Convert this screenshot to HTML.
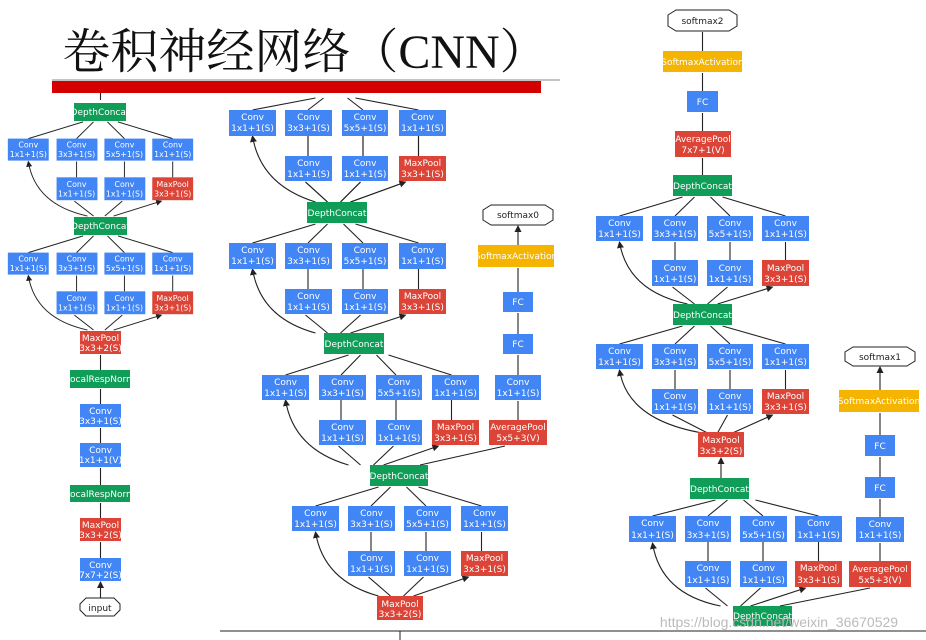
<!DOCTYPE html>
<html><head><meta charset="utf-8"><style>
body{margin:0;background:#fff}
svg{display:block}
text{font-family:"DejaVu Sans","Liberation Sans",sans-serif;fill:#fff;text-anchor:middle;font-size:9px}
.k{fill:#222}
.e{stroke:#222;stroke-width:1.1;fill:none;marker-end:url(#a)}
.b{fill:#4285f4}.r{fill:#db4437}.g{fill:#0f9d58}.y{fill:#f4b400}
.o{fill:#fff;stroke:#222;stroke-width:1}
</style></head><body>
<svg width="926" height="640" viewBox="0 0 926 640" xmlns="http://www.w3.org/2000/svg">
<defs><marker id="a" markerWidth="7" markerHeight="7" refX="6" refY="3.5" orient="auto" markerUnits="userSpaceOnUse"><path d="M0 0L7 3.5L0 7z" fill="#222"/></marker></defs>

<text x="305" y="68" style="font-family:'Liberation Serif','Noto Serif CJK SC',serif;font-size:48px;fill:#111">卷积神经网络（CNN）</text>
<rect x="52" y="81" width="489" height="12" fill="#d40000"/>
<line x1="52" y1="80" x2="560" y2="80" stroke="#888" stroke-width="1"/>
<line x1="220" y1="631" x2="926" y2="631" stroke="#222" stroke-width="1"/>

<!-- Column 1 -->
<line class="e" x1="100.5" y1="93" x2="100.5" y2="100" style="marker-end:none"/>
<g transform="translate(100.5,121) scale(0.87,0.88)">
<path class="e" d="M-83 20L-20 1M-27.5 20L-8 1M27.5 20L8 1M83 20L20 1M-27.5 64V46M27.5 64V46M83 64V46M-8 108L-30 91M5 108L25 91M15 108L70 91"/>
<path class="e" d="M-15 108Q-75 95 -83 46"/>
<rect class="b" x="-106.5" y="20" width="47" height="25"/><rect class="b" x="-50.5" y="20" width="47" height="25"/><rect class="b" x="4.5" y="20" width="47" height="25"/><rect class="b" x="59.5" y="20" width="47" height="25"/>
<rect class="b" x="-50.5" y="64" width="47" height="26"/><rect class="b" x="4.5" y="64" width="47" height="26"/><rect class="r" x="59.5" y="64" width="47" height="26"/>
<text x="-83" y="30">Conv</text><text x="-83" y="41">1x1+1(S)</text><text x="-27.5" y="30">Conv</text><text x="-27.5" y="41">3x3+1(S)</text><text x="27.5" y="30">Conv</text><text x="27.5" y="41">5x5+1(S)</text><text x="83" y="30">Conv</text><text x="83" y="41">1x1+1(S)</text>
<text x="-27.5" y="75">Conv</text><text x="-27.5" y="86">1x1+1(S)</text><text x="27.5" y="75">Conv</text><text x="27.5" y="86">1x1+1(S)</text><text x="83" y="75">MaxPool</text><text x="83" y="86">3x3+1(S)</text>
</g>
<g transform="translate(100.5,235) scale(0.87,0.88)">
<path class="e" d="M-83 20L-20 1M-27.5 20L-8 1M27.5 20L8 1M83 20L20 1M-27.5 64V46M27.5 64V46M83 64V46M-8 108L-30 91M5 108L25 91M15 108L70 91"/>
<path class="e" d="M-15 108Q-75 95 -83 46"/>
<rect class="b" x="-106.5" y="20" width="47" height="25"/><rect class="b" x="-50.5" y="20" width="47" height="25"/><rect class="b" x="4.5" y="20" width="47" height="25"/><rect class="b" x="59.5" y="20" width="47" height="25"/>
<rect class="b" x="-50.5" y="64" width="47" height="26"/><rect class="b" x="4.5" y="64" width="47" height="26"/><rect class="r" x="59.5" y="64" width="47" height="26"/>
<text x="-83" y="30">Conv</text><text x="-83" y="41">1x1+1(S)</text><text x="-27.5" y="30">Conv</text><text x="-27.5" y="41">3x3+1(S)</text><text x="27.5" y="30">Conv</text><text x="27.5" y="41">5x5+1(S)</text><text x="83" y="30">Conv</text><text x="83" y="41">1x1+1(S)</text>
<text x="-27.5" y="75">Conv</text><text x="-27.5" y="86">1x1+1(S)</text><text x="27.5" y="75">Conv</text><text x="27.5" y="86">1x1+1(S)</text><text x="83" y="75">MaxPool</text><text x="83" y="86">3x3+1(S)</text>
</g>
<path class="e" d="M100.5 370V355M100.5 404V389M100.5 443V428M100.5 485V468M100.5 518V503M100.5 558V542M100.5 598V582"/>
<rect class="g" x="74" y="103" width="52" height="18"/><text x="100" y="115">DepthConcat</text>
<rect class="g" x="74" y="217" width="53" height="18"/><text x="100.5" y="229">DepthConcat</text>
<rect class="r" x="80" y="331" width="41" height="23"/><text x="100.5" y="341">MaxPool</text><text x="100.5" y="351">3x3+2(S)</text>
<rect class="g" x="70" y="370" width="60" height="18"/><text x="100" y="382">LocalRespNorm</text>
<rect class="b" x="80" y="404" width="41" height="23"/><text x="100.5" y="414">Conv</text><text x="100.5" y="424">3x3+1(S)</text>
<rect class="b" x="80" y="443" width="41" height="24"/><text x="100.5" y="453">Conv</text><text x="100.5" y="463">1x1+1(V)</text>
<rect class="g" x="70" y="485" width="60" height="17"/><text x="100" y="497">LocalRespNorm</text>
<rect class="r" x="80" y="518" width="41" height="23"/><text x="100.5" y="528">MaxPool</text><text x="100.5" y="538">3x3+2(S)</text>
<rect class="b" x="80" y="558" width="41" height="23"/><text x="100.5" y="568">Conv</text><text x="100.5" y="578">7x7+2(S)</text>
<polygon class="o" points="86,598 114,598 120,604 120,610 114,616 86,616 80,610 80,604"/><text class="k" x="100" y="611">input</text>

<!-- Column 2 modules -->
<g transform="translate(335.5,90)">
<path class="e" d="M-83 20L-20 8M-27.5 20L-12 8M27.5 20L12 8M83 20L20 8M-27.5 66V46M27.5 66V46M83 66V46M-8 112L-30 92M5 112L25 92M15 112L70 92" style="marker-end:none"/>
<path class="e" d="M-27.5 66V46M27.5 66V46M83 66V46M-8 112L-30 92M5 112L25 92M15 112L70 92"/>
<path class="e" d="M-20 112Q-75 95 -83 46"/>
<rect class="b" x="-106.5" y="20" width="47" height="26"/><rect class="b" x="-50.5" y="20" width="47" height="26"/><rect class="b" x="6.5" y="20" width="46" height="26"/><rect class="b" x="63.5" y="20" width="47" height="26"/>
<rect class="b" x="-50.5" y="66" width="47" height="25"/><rect class="b" x="6.5" y="66" width="46" height="25"/><rect class="r" x="63.5" y="66" width="47" height="25"/>
<text x="-83" y="30">Conv</text><text x="-83" y="41">1x1+1(S)</text><text x="-27" y="30">Conv</text><text x="-27" y="41">3x3+1(S)</text><text x="29.5" y="30">Conv</text><text x="29.5" y="41">5x5+1(S)</text><text x="87" y="30">Conv</text><text x="87" y="41">1x1+1(S)</text>
<text x="-27" y="76">Conv</text><text x="-27" y="87">1x1+1(S)</text><text x="29.5" y="76">Conv</text><text x="29.5" y="87">1x1+1(S)</text><text x="87" y="76">MaxPool</text><text x="87" y="87">3x3+1(S)</text>
</g>
<g transform="translate(335.5,223)">
<path class="e" d="M-83 20L-20 1M-27.5 20L-8 1M27.5 20L8 1M83 20L20 1M-27.5 66V46M27.5 66V46M83 66V46M-8 110L-30 92M5 110L25 92M15 110L70 92"/>
<path class="e" d="M-20 110Q-75 95 -83 46"/>
<rect class="b" x="-106.5" y="20" width="47" height="26"/><rect class="b" x="-50.5" y="20" width="47" height="26"/><rect class="b" x="6.5" y="20" width="46" height="26"/><rect class="b" x="63.5" y="20" width="47" height="26"/>
<rect class="b" x="-50.5" y="66" width="47" height="25"/><rect class="b" x="6.5" y="66" width="46" height="25"/><rect class="r" x="63.5" y="66" width="47" height="25"/>
<text x="-83" y="30">Conv</text><text x="-83" y="41">1x1+1(S)</text><text x="-27" y="30">Conv</text><text x="-27" y="41">3x3+1(S)</text><text x="29.5" y="30">Conv</text><text x="29.5" y="41">5x5+1(S)</text><text x="87" y="30">Conv</text><text x="87" y="41">1x1+1(S)</text>
<text x="-27" y="76">Conv</text><text x="-27" y="87">1x1+1(S)</text><text x="29.5" y="76">Conv</text><text x="29.5" y="87">1x1+1(S)</text><text x="87" y="76">MaxPool</text><text x="87" y="87">3x3+1(S)</text>
</g>
<g transform="translate(368.5,354)">
<path class="e" d="M-83 21L-20 1M-27.5 21L-8 1M27.5 21L8 1M83 21L20 1M-27.5 66V46M27.5 66V46M83 66V46M-8 111L-30 92M5 111L25 92M15 111L70 92"/>
<path class="e" d="M-20 111Q-75 95 -83 46"/>
<rect class="b" x="-106.5" y="21" width="47" height="25"/><rect class="b" x="-49.5" y="21" width="47" height="25"/><rect class="b" x="7.5" y="21" width="46" height="25"/><rect class="b" x="63.5" y="21" width="47" height="25"/>
<rect class="b" x="-49.5" y="66" width="47" height="25"/><rect class="b" x="7.5" y="66" width="46" height="25"/><rect class="r" x="63.5" y="66" width="47" height="25"/>
<text x="-83" y="31">Conv</text><text x="-83" y="42">1x1+1(S)</text><text x="-26" y="31">Conv</text><text x="-26" y="42">3x3+1(S)</text><text x="30.5" y="31">Conv</text><text x="30.5" y="42">5x5+1(S)</text><text x="87" y="31">Conv</text><text x="87" y="42">1x1+1(S)</text>
<text x="-26" y="76">Conv</text><text x="-26" y="87">1x1+1(S)</text><text x="30.5" y="76">Conv</text><text x="30.5" y="87">1x1+1(S)</text><text x="87" y="76">MaxPool</text><text x="87" y="87">3x3+1(S)</text>
</g>
<g transform="translate(398.5,486)">
<path class="e" d="M-83 20L-20 1M-27.5 20L-8 1M27.5 20L8 1M83 20L20 1M-27.5 65V46M27.5 65V46M83 65V46M-8 110L-30 91M5 110L25 91M15 110L70 91"/>
<path class="e" d="M-20 110Q-75 95 -83 46"/>
<rect class="b" x="-106.5" y="20" width="47" height="25"/><rect class="b" x="-50.5" y="20" width="47" height="25"/><rect class="b" x="5.5" y="20" width="47" height="25"/><rect class="b" x="62.5" y="20" width="47" height="25"/>
<rect class="b" x="-50.5" y="65" width="47" height="25"/><rect class="b" x="5.5" y="65" width="47" height="25"/><rect class="r" x="62.5" y="65" width="47" height="25"/>
<text x="-83" y="30">Conv</text><text x="-83" y="41">1x1+1(S)</text><text x="-27" y="30">Conv</text><text x="-27" y="41">3x3+1(S)</text><text x="29" y="30">Conv</text><text x="29" y="41">5x5+1(S)</text><text x="86" y="30">Conv</text><text x="86" y="41">1x1+1(S)</text>
<text x="-27" y="75">Conv</text><text x="-27" y="86">1x1+1(S)</text><text x="29" y="75">Conv</text><text x="29" y="86">1x1+1(S)</text><text x="86" y="75">MaxPool</text><text x="86" y="86">3x3+1(S)</text>
</g>
<rect class="g" x="307" y="202" width="60" height="21"/><text x="337" y="216">DepthConcat</text>
<rect class="g" x="324" y="333" width="60" height="21"/><text x="354" y="347">DepthConcat</text>
<rect class="g" x="370" y="465" width="58" height="21"/><text x="399" y="479">DepthConcat</text>
<rect class="r" x="377" y="596" width="46" height="24"/><text x="400" y="607">MaxPool</text><text x="400" y="617">3x3+2(S)</text>
<line x1="400" y1="631" x2="400" y2="640" stroke="#222"/>
<!-- aux 0 -->
<path class="e" d="M420 465L505 446M518 420V401M518 375V355M518 334V313M518 292V268M518 245V226"/>
<rect class="r" x="489" y="420" width="58" height="25"/><text x="518" y="430">AveragePool</text><text x="518" y="441">5x5+3(V)</text>
<rect class="b" x="495" y="375" width="46" height="25"/><text x="518" y="385">Conv</text><text x="518" y="396">1x1+1(S)</text>
<rect class="b" x="503" y="334" width="30" height="20"/><text x="518" y="347">FC</text>
<rect class="b" x="503" y="292" width="30" height="20"/><text x="518" y="305">FC</text>
<rect class="y" x="478" y="245" width="76" height="22"/><text x="516" y="259">SoftmaxActivation</text>
<polygon class="o" points="491,205 545,205 553,210 553,220 545,225 491,225 483,220 483,210"/><text class="k" x="518" y="218">softmax0</text>

<!-- Column 3 -->
<g transform="translate(702.5,196)">
<path class="e" d="M-83 20L-20 1M-27.5 20L-8 1M27.5 20L8 1M83 20L20 1M-27.5 64V46M27.5 64V46M83 64V46M-8 108L-30 91M5 108L25 91M15 108L70 91"/>
<path class="e" d="M-15 108Q-75 95 -83 46"/>
<rect class="b" x="-106.5" y="20" width="47" height="25"/><rect class="b" x="-50.5" y="20" width="46" height="25"/><rect class="b" x="4.5" y="20" width="46" height="25"/><rect class="b" x="59.5" y="20" width="47" height="25"/>
<rect class="b" x="-50.5" y="64" width="46" height="26"/><rect class="b" x="4.5" y="64" width="46" height="26"/><rect class="r" x="59.5" y="64" width="47" height="26"/>
<text x="-83" y="30">Conv</text><text x="-83" y="41">1x1+1(S)</text><text x="-27.5" y="30">Conv</text><text x="-27.5" y="41">3x3+1(S)</text><text x="27.5" y="30">Conv</text><text x="27.5" y="41">5x5+1(S)</text><text x="83" y="30">Conv</text><text x="83" y="41">1x1+1(S)</text>
<text x="-27.5" y="75">Conv</text><text x="-27.5" y="86">1x1+1(S)</text><text x="27.5" y="75">Conv</text><text x="27.5" y="86">1x1+1(S)</text><text x="83" y="75">MaxPool</text><text x="83" y="86">3x3+1(S)</text>
</g>
<g transform="translate(702.5,325)">
<path class="e" d="M-83 19L-20 1M-27.5 19L-8 1M27.5 19L8 1M83 19L20 1M-27.5 64V45M27.5 64V45M83 64V45M5 108L-30 90M15 108L25 90M30 108L70 90"/>
<path class="e" d="M0 108Q-75 95 -83 45"/>
<rect class="b" x="-106.5" y="19" width="47" height="25"/><rect class="b" x="-50.5" y="19" width="46" height="25"/><rect class="b" x="4.5" y="19" width="46" height="25"/><rect class="b" x="59.5" y="19" width="47" height="25"/>
<rect class="b" x="-50.5" y="64" width="46" height="25"/><rect class="b" x="4.5" y="64" width="46" height="25"/><rect class="r" x="59.5" y="64" width="47" height="25"/>
<text x="-83" y="29">Conv</text><text x="-83" y="40">1x1+1(S)</text><text x="-27.5" y="29">Conv</text><text x="-27.5" y="40">3x3+1(S)</text><text x="27.5" y="29">Conv</text><text x="27.5" y="40">5x5+1(S)</text><text x="83" y="29">Conv</text><text x="83" y="40">1x1+1(S)</text>
<text x="-27.5" y="74">Conv</text><text x="-27.5" y="85">1x1+1(S)</text><text x="27.5" y="74">Conv</text><text x="27.5" y="85">1x1+1(S)</text><text x="83" y="74">MaxPool</text><text x="83" y="85">3x3+1(S)</text>
</g>
<g transform="translate(735.5,499)">
<path class="e" d="M-83 17L-20 1M-27.5 17L-8 1M27.5 17L8 1M83 17L20 1M-27.5 62V43M27.5 62V43M83 62V43M-8 107L-30 89M5 107L25 89M15 107L70 89"/>
<path class="e" d="M-15 107Q-75 95 -83 44"/>
<rect class="b" x="-106.5" y="17" width="47" height="26"/><rect class="b" x="-50.5" y="17" width="46" height="26"/><rect class="b" x="4.5" y="17" width="47" height="26"/><rect class="b" x="59.5" y="17" width="47" height="26"/>
<rect class="b" x="-50.5" y="62" width="46" height="26"/><rect class="b" x="4.5" y="62" width="47" height="26"/><rect class="r" x="59.5" y="62" width="47" height="26"/>
<text x="-83" y="27">Conv</text><text x="-83" y="39">1x1+1(S)</text><text x="-27.5" y="27">Conv</text><text x="-27.5" y="39">3x3+1(S)</text><text x="28" y="27">Conv</text><text x="28" y="39">5x5+1(S)</text><text x="83" y="27">Conv</text><text x="83" y="39">1x1+1(S)</text>
<text x="-27.5" y="72">Conv</text><text x="-27.5" y="84">1x1+1(S)</text><text x="28" y="72">Conv</text><text x="28" y="84">1x1+1(S)</text><text x="83" y="72">MaxPool</text><text x="83" y="84">3x3+1(S)</text>
</g>
<path class="e" d="M702.5 175V158M702.5 131V113M702.5 91V73M702.5 51V32M721 478V458"/>
<polygon class="o" points="676,10 729,10 737,15 737,26 729,31 676,31 668,26 668,15"/><text class="k" x="702.5" y="24">softmax2</text>
<rect class="y" x="663" y="51" width="79" height="21"/><text x="702.5" y="65">SoftmaxActivation</text>
<rect class="b" x="687" y="91" width="31" height="21"/><text x="702.5" y="105">FC</text>
<rect class="r" x="675" y="131" width="56" height="26"/><text x="703" y="142">AveragePool</text><text x="703" y="153">7x7+1(V)</text>
<rect class="g" x="673" y="175" width="59" height="21"/><text x="702.5" y="189">DepthConcat</text>
<rect class="g" x="673" y="304" width="59" height="21"/><text x="702.5" y="318">DepthConcat</text>
<rect class="r" x="698" y="432" width="46" height="25"/><text x="721" y="443">MaxPool</text><text x="721" y="454">3x3+2(S)</text>
<rect class="g" x="690" y="478" width="59" height="21"/><text x="719.5" y="492">DepthConcat</text>
<rect class="g" x="733" y="606" width="59" height="20"/><text x="762.5" y="619">DepthConcat</text>
<!-- aux 1 -->
<path class="e" d="M780 606L870 588M880 561V543M880 517V499M880 477V457M880 435V413M880 390V367"/>
<rect class="r" x="849" y="561" width="62" height="26"/><text x="880" y="572">AveragePool</text><text x="880" y="583">5x5+3(V)</text>
<rect class="b" x="856" y="517" width="48" height="25"/><text x="880" y="527">Conv</text><text x="880" y="538">1x1+1(S)</text>
<rect class="b" x="865" y="477" width="30" height="21"/><text x="880" y="491">FC</text>
<rect class="b" x="865" y="435" width="30" height="21"/><text x="880" y="449">FC</text>
<rect class="y" x="839" y="390" width="80" height="22"/><text x="879" y="404">SoftmaxActivation</text>
<polygon class="o" points="853,347 907,347 915,352 915,361 907,366 853,366 845,361 845,352"/><text class="k" x="880" y="360">softmax1</text>

<text x="779" y="627" style="fill:#bbb;font-size:14px;font-family:'Liberation Sans',sans-serif">https://blog.csdn.net/weixin_36670529</text>
</svg>
</body></html>
